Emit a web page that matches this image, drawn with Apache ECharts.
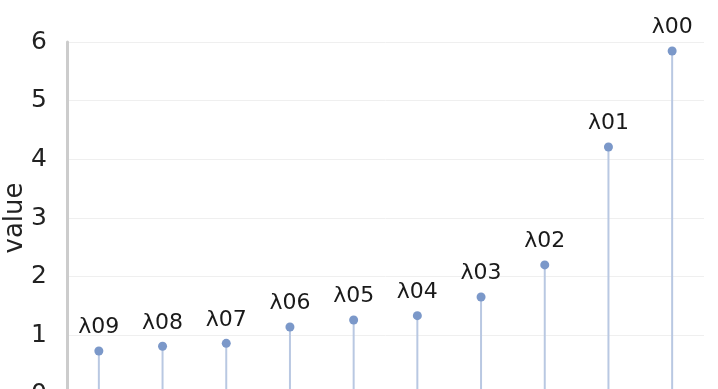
<!DOCTYPE html>
<html><head><meta charset="utf-8">
<script src="https://cdn.jsdelivr.net/npm/echarts@6/dist/echarts.min.js"></script>
<style>html,body{margin:0;padding:0;background:#fff}#c{width:718px;height:389px}</style>
</head><body><div id="c"></div>
<script>
const categories = ['λ09','λ08','λ07','λ06','λ05','λ04','λ03','λ02','λ01','λ00'];
const values = [0.733, 0.813, 0.864, 1.142, 1.261, 1.335, 1.653, 2.2, 4.21, 5.846];
const yTicks = [0, 1, 2, 3, 4, 5, 6];

const chart = echarts.init(document.getElementById('c'), null, {renderer: 'canvas'});
chart.setOption({
  animation: false,
  textStyle: {fontFamily: 'DejaVu Sans'},
  grid: {left: 67, right: 14, top: 42, height: 352, containLabel: false, outerBoundsMode: 'none'},
  xAxis: {
    type: 'category', data: categories, boundaryGap: true,
    axisLine: {show: false}, axisTick: {show: false}, axisLabel: {show: false}, splitLine: {show: false}
  },
  yAxis: {
    type: 'value', min: yTicks[0], max: yTicks[yTicks.length - 1], interval: 1,
    name: 'value', nameLocation: 'middle', nameGap: 39, nameMoveOverlap: false,
    nameTextStyle: {fontSize: 26, color: '#222', fontFamily: 'DejaVu Sans'},
    axisLine: {show: true, lineStyle: {color: '#cccccc', width: 3}},
    axisTick: {show: false},
    axisLabel: {fontSize: 25, color: '#222', margin: 20, fontFamily: 'DejaVu Sans'},
    splitLine: {lineStyle: {color: '#efefef', width: 1}}
  },
  series: [
    {
      type: 'bar', data: values, barWidth: 2, silent: true,
      itemStyle: {color: '#b9c8e2'}
    },
    {
      type: 'scatter', data: values, symbol: 'circle', symbolSize: 9,
      itemStyle: {color: '#7b98c9', opacity: 1},
      label: {
        show: true, position: 'top', distance: 8, opacity: 1,
        formatter: p => categories[p.dataIndex],
        fontSize: 22, color: '#1a1a1a', textBorderWidth: 0, fontFamily: 'DejaVu Sans'
      }
    }
  ]
});
</script></body></html>
